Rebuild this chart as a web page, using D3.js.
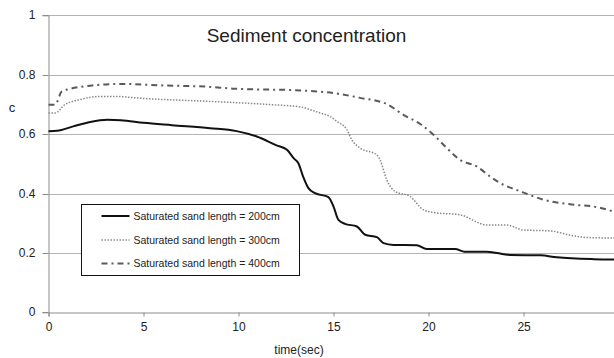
<!DOCTYPE html>
<html>
<head>
<meta charset="utf-8">
<script src="https://cdn.jsdelivr.net/npm/d3@7"></script>
<style>
  body { margin: 0; background: #fff; }
  text { font-family: "Liberation Sans", Arial, sans-serif; fill: #222; }
</style>
</head>
<body>
<div id="chart"></div>
<script>
var width = 614;
var height = 358;

// series
const t200 = [0, 0.45, 1.3, 2.2, 3.1, 3.8, 5, 6.5, 8.5, 9.9, 10.96, 12.0, 12.55, 12.9, 13.15, 13.4, 13.68, 14.03, 14.73, 15.0, 15.26, 15.6, 16.23, 16.67, 17.28, 17.63, 18.16, 19.38, 19.9, 21.4, 21.9, 23.07, 24.3, 25.9, 26.75, 28.7, 29.76];
const c200 = [0.610, 0.611, 0.626, 0.641, 0.648, 0.647, 0.638, 0.630, 0.620, 0.610, 0.592, 0.562, 0.547, 0.519, 0.502, 0.457, 0.418, 0.401, 0.388, 0.356, 0.311, 0.298, 0.289, 0.261, 0.253, 0.233, 0.227, 0.226, 0.213, 0.213, 0.204, 0.204, 0.193, 0.192, 0.185, 0.179, 0.178];

const t300 = [0, 0.35, 0.86, 1.66, 2.7, 3.4, 5, 8.5, 11.5, 13.4, 13.77, 14.3, 14.82, 15.17, 15.7, 15.96, 16.4, 17.28, 17.45, 17.8, 18.24, 19.03, 19.73, 20.26, 21.67, 23.07, 24.1, 25.0, 26.4, 27.6, 28.3, 29.76];
const c300 = [0.671, 0.671, 0.699, 0.716, 0.727, 0.727, 0.720, 0.710, 0.700, 0.690, 0.682, 0.671, 0.659, 0.643, 0.615, 0.581, 0.553, 0.530, 0.513, 0.446, 0.407, 0.390, 0.345, 0.336, 0.328, 0.294, 0.294, 0.277, 0.274, 0.258, 0.252, 0.250];

const t400 = [0, 0.35, 0.7, 1.1, 2.2, 3.8, 6, 8.5, 9.7, 13.25, 15, 16.4, 17.8, 18.68, 19.56, 20.26, 20.96, 21.66, 22.54, 23.24, 23.78, 24.84, 26.07, 27.65, 28.7, 29.76];
const c400 = [0.699, 0.699, 0.744, 0.752, 0.763, 0.769, 0.764, 0.759, 0.753, 0.747, 0.738, 0.722, 0.701, 0.665, 0.634, 0.598, 0.553, 0.513, 0.491, 0.457, 0.435, 0.407, 0.379, 0.362, 0.356, 0.339];

const seriesNames = ["Saturated sand length = 200cm", "Saturated sand length = 300cm", "Saturated sand length = 400cm"];
const xTicks = [0, 5, 10, 15, 20, 25];
const yTicks = [0, 0.2, 0.4, 0.6, 0.8, 1];

const series = [
	{ name: seriesNames[0], t: t200, c: c200, color: "#111", w: 2, dash: null },
	{ name: seriesNames[1], t: t300, c: c300, color: "#8a8a8a", w: 1.5, dash: "1.5,1.5" },
	{ name: seriesNames[2], t: t400, c: c400, color: "#5a5a5a", w: 2, dash: "6,4,2,4" },
];

var svg = d3
	.select("#chart")
	.append("svg")
	.attr("width", width)
	.attr("height", height);

var x = d3.scaleLinear().domain([0, 29.76]).range([48.5, 614]);
var y = d3.scaleLinear().domain([0, 1]).range([312.3, 15.3]);

// grid
svg.append("g")
	.selectAll("line")
	.data(yTicks.slice(1))
	.join("line")
	.attr("x1", 48.5)
	.attr("x2", width)
	.attr("y1", (d) => Math.round(y(d)) + 0.5)
	.attr("y2", (d) => Math.round(y(d)) + 0.5)
	.attr("stroke", "#b4b4b4");

// y axis
var yAxis = svg.append("g")
	.attr("transform", "translate(48.5,0)")
	.call(d3.axisLeft(y).tickValues(yTicks).tickFormat(d3.format("")).tickSize(6).tickPadding(7));
yAxis.select(".domain").attr("stroke", "#8c8c8c");
yAxis.selectAll(".tick line").attr("stroke", "#8c8c8c");
yAxis.selectAll("text").style("font-size", "12px").attr("fill", "#222");
yAxis.selectAll(".tick").attr("transform", (d) => "translate(0," + (Math.round(y(d)) + 0.5) + ")");

// x axis
var xAxis = svg.append("g")
	.attr("transform", "translate(0,312.5)")
	.call(d3.axisBottom(x).tickValues(xTicks).tickSize(4).tickPadding(6));
xAxis.select(".domain").attr("stroke", "#8c8c8c");
xAxis.selectAll(".tick line").attr("stroke", "#8c8c8c");
xAxis.selectAll("text").style("font-size", "12px").attr("fill", "#222");

// lines
var line = d3.line()
	.x((d) => x(d[0]))
	.y((d) => y(d[1]))
	.curve(d3.curveMonotoneX);

svg.append("g")
	.selectAll("path")
	.data(series)
	.join("path")
	.attr("d", (s) => line(d3.zip(s.t, s.c)))
	.attr("fill", "none")
	.attr("stroke", (s) => s.color)
	.attr("stroke-width", (s) => s.w)
	.attr("stroke-dasharray", (s) => s.dash);

// title and axis labels
svg.append("text")
	.attr("x", 306.5)
	.attr("y", 42)
	.attr("text-anchor", "middle")
	.style("font-size", "19px")
	.text("Sediment concentration");

svg.append("text")
	.attr("x", 12)
	.attr("y", 112)
	.attr("text-anchor", "middle")
	.style("font-size", "13px")
	.text("c");

svg.append("text")
	.attr("x", 299)
	.attr("y", 354)
	.attr("text-anchor", "middle")
	.style("font-size", "12px")
	.text("time(sec)");

// legend
var legend = svg.append("g");
legend.append("rect")
	.attr("x", 81.5)
	.attr("y", 204.5)
	.attr("width", 218)
	.attr("height", 71)
	.attr("fill", "#fff")
	.attr("stroke", "#111");

var rows = legend.selectAll("g.row")
	.data(series)
	.join("g")
	.attr("class", "row")
	.attr("transform", (d, i) => "translate(0," + [216, 240, 263.5][i] + ")");

rows.append("line")
	.attr("x1", 101.5)
	.attr("x2", 129.5)
	.attr("stroke", (s) => s.color)
	.attr("stroke-width", (s) => s.w)
	.attr("stroke-dasharray", (s) => s.dash);

rows.append("text")
	.attr("x", 133.5)
	.attr("y", 3.8)
	.style("font-size", "10.5px")
	.text((s) => s.name);
</script>
</body>
</html>
